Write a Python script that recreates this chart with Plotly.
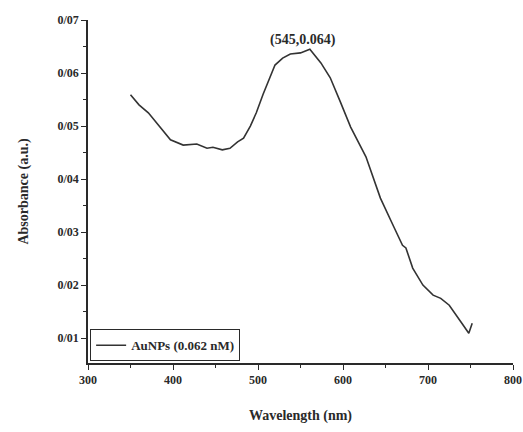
import plotly.graph_objects as go

wavelength = [350, 354, 360, 371, 385, 397, 412, 428, 440, 447, 458, 467, 476, 483, 491, 498,
              506, 520, 529, 538, 550, 561, 574, 585, 597, 609, 627, 644, 660, 670, 674, 682,
              694, 706, 715, 725, 739, 748, 752]
absorbance = [0.0559, 0.0552, 0.0540, 0.0525, 0.0498, 0.0474, 0.0464, 0.0466, 0.0458, 0.0460,
              0.0455, 0.0458, 0.0470, 0.0477, 0.0500, 0.0525, 0.0560, 0.0615, 0.0628, 0.0636,
              0.0638, 0.0645, 0.0619, 0.0591, 0.0545, 0.0498, 0.0442, 0.0364, 0.0309, 0.0275,
              0.0270, 0.0232, 0.0200, 0.0181, 0.0175, 0.0162, 0.0130, 0.0109, 0.0128]

x_ticks = [300, 400, 500, 600, 700, 800]
y_ticks = [0.01, 0.02, 0.03, 0.04, 0.05, 0.06, 0.07]
y_tick_labels = ["0/01", "0/02", "0/03", "0/04", "0/05", "0/06", "0/07"]
series_name = "AuNPs (0.062 nM)"
peak_label = "(545,0.064)"
peak_x, peak_y = 545, 0.064

serif = "Liberation Serif"
ink = "#2a2a2a"

fig = go.Figure()
fig.add_trace(go.Scatter(
    x=wavelength, y=absorbance, mode="lines", name=series_name,
    line=dict(color="#333333", width=1.6),
))

fig.add_annotation(
    x=peak_x + 8, y=peak_y, text=peak_label, showarrow=False,
    yshift=12, font=dict(family=serif, size=14, color=ink, weight="bold"),
)

axis_common = dict(
    showgrid=False, zeroline=False, showline=True, linecolor=ink, linewidth=1.5,
    ticks="outside", ticklen=5, tickwidth=1.3, tickcolor=ink,
    tickfont=dict(family=serif, size=12, color=ink, weight="bold"),
    minor=dict(ticks="outside", ticklen=3, tickwidth=1.1, tickcolor=ink),
    automargin=False,
)

fig.update_xaxes(
    range=[300, 800], tickvals=x_ticks, ticktext=[str(v) for v in x_ticks],
    minor_dtick=50,
    title=dict(text="Wavelength (nm)", standoff=24,
               font=dict(family=serif, size=14, color=ink, weight="bold")),
    **axis_common,
)
fig.update_yaxes(
    range=[0.0053, 0.07], tickvals=y_ticks, ticktext=y_tick_labels,
    minor_dtick=0.005, minor_tick0=0.005,
    title=dict(text="Absorbance (a.u.)", standoff=26,
               font=dict(family=serif, size=14, color=ink, weight="bold")),
    **axis_common,
)

fig.update_layout(
    width=523, height=432,
    margin=dict(l=88, r=10, t=20, b=69),
    paper_bgcolor="white", plot_bgcolor="white",
    showlegend=True,
    legend=dict(
        x=0.005, y=0.005, xanchor="left", yanchor="bottom",
        bgcolor="white", bordercolor=ink, borderwidth=1,
        font=dict(family=serif, size=13, color=ink, weight="bold"),
    ),
)

fig.write_html("out.html")
